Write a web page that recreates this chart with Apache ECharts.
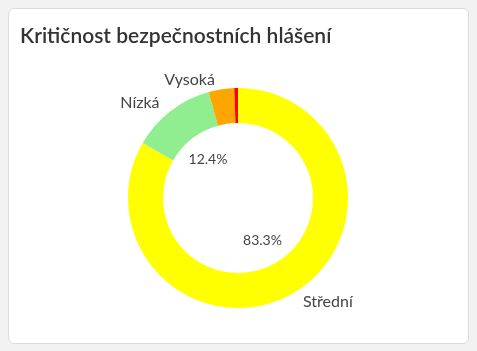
<!DOCTYPE html>
<html>
<head>
<meta charset="utf-8">
<script src="https://cdn.jsdelivr.net/npm/echarts@6/dist/echarts.min.js"></script>
<style>
  html, body { margin: 0; padding: 0; background: #f2f2f2; }
  #card {
    position: absolute; left: 8px; top: 8px; width: 459px; height: 334px;
    background: #fff; border: 1px solid #dcdcdc; border-radius: 6px;
  }
  #chart { position: absolute; left: 0; top: 0; width: 477px; height: 351px; }
</style>
</head>
<body>
<div id="card"></div>
<div id="chart"></div>
<script>
// závažnost hlášení
const names = ['Střední', 'Nízká', 'Vysoká', 'Kritická'];
const counts = [155, 23, 7, 1];
const colors = ['yellow', 'lightgreen', 'orange', 'red'];

const font = 'Lato, "Noto Sans", sans-serif';

const myChart = echarts.init(document.getElementById('chart'));

const data = names.map((name, i) => ({
  name,
  value: counts[i],
  itemStyle: { color: colors[i] },
  label: { show: name !== 'Kritická' },
}));

myChart.setOption({
  animation: false,
  title: {
    text: 'Kritičnost bezpečnostních hlášení',
    left: 15,
    top: 21,
    textStyle: { fontFamily: font, fontSize: 21, fontWeight: 600, color: '#333' },
  },
  series: [
    {
      // prstenec se jmény
      type: 'pie',
      center: [238, 198],
      radius: [75, 110],
      startAngle: 90,
      clockwise: true,
      avoidLabelOverlap: false,
      silent: true,
      data,
      itemStyle: { borderWidth: 0 },
      label: {
        position: 'outside',
        fontFamily: font,
        fontSize: 16,
        color: '#444',
      },
      labelLine: { show: false, length: 10, length2: 0 },
    },
    {
      // procenta uvnitř
      type: 'pie',
      center: [238, 198],
      radius: [0, 92],
      startAngle: 90,
      silent: true,
      data: names.map((name, i) => ({ name, value: counts[i] })),
      itemStyle: { color: 'rgba(0,0,0,0)' },
      label: {
        position: 'inside',
        fontFamily: font,
        fontSize: 14,
        color: '#444',
        formatter: (p) => (p.percent >= 10 ? p.percent.toFixed(1) + '%' : ''),
      },
      labelLine: { show: false },
    },
  ],
});
</script>
</body>
</html>
